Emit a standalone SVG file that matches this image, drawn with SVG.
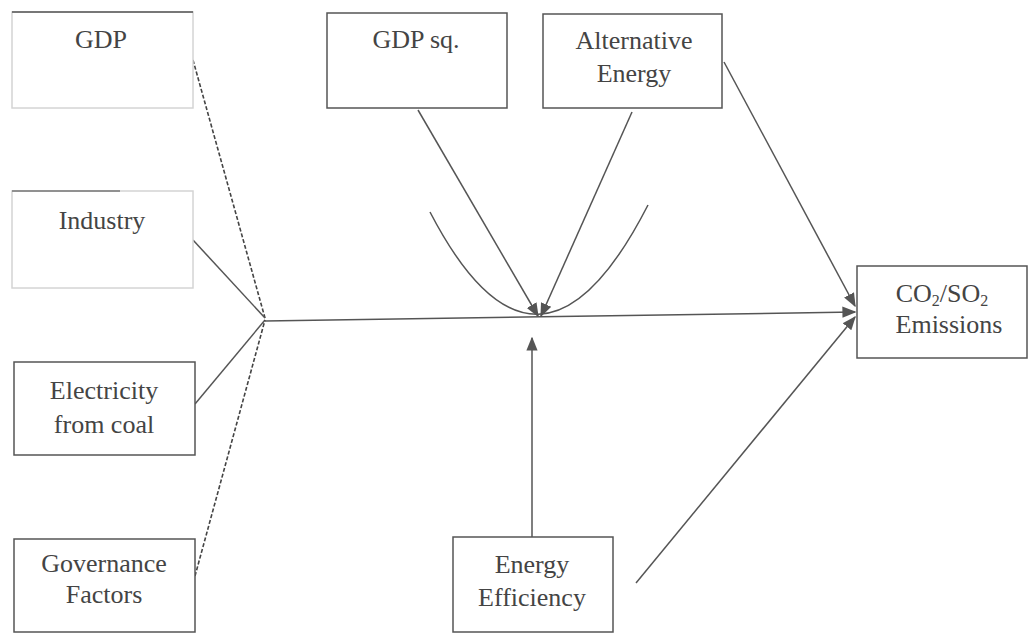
<svg xmlns="http://www.w3.org/2000/svg" width="1029" height="634" viewBox="0 0 1029 634">
<defs>
<style>
.box{fill:#fff;stroke:#555;stroke-width:1.5}
.faint{fill:#fff;stroke:#d4d4d4;stroke-width:1.5}
.t{font-size:26px;fill:#444;text-anchor:middle}
.c{fill:none;stroke:#555;stroke-width:1.5}
.d{fill:none;stroke:#444;stroke-width:1.6;stroke-dasharray:4 2}
</style>
<marker id="ah2" viewBox="0 0 10 10" refX="9" refY="5" markerWidth="14" markerHeight="14" markerUnits="userSpaceOnUse" orient="auto">
<path d="M0,1 L10,5 L0,9 z" fill="#555"/>
</marker>
</defs>
<rect width="1029" height="634" fill="#fff"/>
<g id="connectors">
<path class="d" d="M193,60 L265,318"/>
<path class="c" d="M193,240 L265,318"/>
<path class="c" d="M195,404 L265,320"/>
<path class="d" d="M195,576 L265,320"/>
<path class="c" d="M265,321 L855,312" marker-end="url(#ah2)"/>
<path class="c" d="M418,110 L538,316" marker-end="url(#ah2)"/>
<path class="c" d="M632,112 L541,316" marker-end="url(#ah2)"/>
<path class="c" d="M430,212 Q538,420 648,205"/>
<path class="c" d="M724,62 L855,306" marker-end="url(#ah2)"/>
<path class="c" d="M636,583 L855,317" marker-end="url(#ah2)"/>
<path class="c" d="M532,537 L532,338" marker-end="url(#ah2)"/>
</g>
<g font-family="'Liberation Serif', 'Times New Roman', 'DejaVu Serif', serif">
<g id="gdp">
<rect class="faint" x="12" y="12" width="181" height="96"/>
<line x1="12" y1="12" x2="193" y2="12" stroke="#555" stroke-width="1.5"/>
<text class="t" x="101" y="48">GDP</text>
</g>
<g id="industry">
<rect class="faint" x="12" y="191" width="181" height="97"/>
<line x1="12" y1="191" x2="120" y2="191" stroke="#777" stroke-width="1.5"/>
<text class="t" x="102" y="229">Industry</text>
</g>
<g id="electricity">
<rect class="box" x="14" y="362" width="181" height="93"/>
<text class="t" x="104" y="399">Electricity</text>
<text class="t" x="104" y="433">from coal</text>
</g>
<g id="governance">
<rect class="box" x="14" y="539" width="181" height="93"/>
<text class="t" x="104" y="572">Governance</text>
<text class="t" x="104" y="603">Factors</text>
</g>
<g id="gdpsq">
<rect class="box" x="327" y="13" width="180" height="95"/>
<text class="t" x="416" y="48">GDP sq.</text>
</g>
<g id="altenergy">
<rect class="box" x="543" y="14" width="179" height="94"/>
<text class="t" x="634" y="49">Alternative</text>
<text class="t" x="634" y="82">Energy</text>
</g>
<g id="emissions">
<rect class="box" x="857" y="266" width="170" height="92"/>
<text class="t" x="942" y="302">CO<tspan font-size="16" dy="4">2</tspan><tspan dy="-4">/SO</tspan><tspan font-size="16" dy="4">2</tspan></text>
<text class="t" x="949" y="333">Emissions</text>
</g>
<g id="efficiency">
<rect class="box" x="453" y="537" width="160" height="95"/>
<text class="t" x="532" y="573">Energy</text>
<text class="t" x="532" y="606">Efficiency</text>
</g>
</g>
</svg>
